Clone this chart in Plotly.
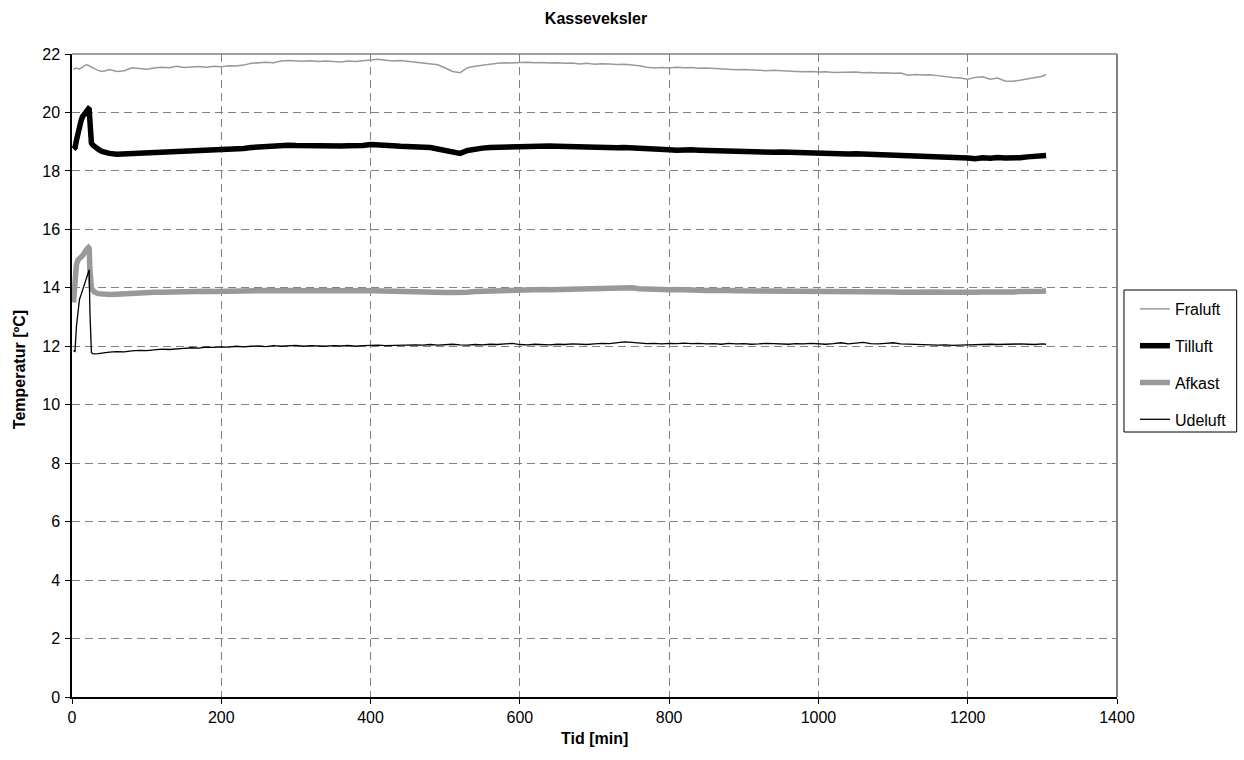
import plotly.graph_objects as go

# ---- time axis (minutes) ----
t_start = [2, 4, 6, 8, 10, 12, 14, 16, 18, 20, 22, 23, 24, 25, 26, 28, 30, 35, 40, 45]
t_main = list(range(50, 1301, 10))
t_end = [1305]
tid = t_start + t_main + t_end

# ---- Fraluft ----
fraluft_start = [21.48, 21.5, 21.52, 21.5, 21.48, 21.52, 21.56, 21.6, 21.62, 21.63,
                 21.62, 21.6, 21.58, 21.57, 21.55, 21.53, 21.5, 21.44, 21.4, 21.43]
fraluft_main = [
    21.47, 21.4, 21.43, 21.53, 21.5, 21.48, 21.52, 21.55, 21.53, 21.58,
    21.54, 21.56, 21.57, 21.55, 21.58, 21.56, 21.6, 21.59, 21.62, 21.68,
    21.7, 21.72, 21.7, 21.76, 21.78, 21.76, 21.75, 21.77, 21.74, 21.76,
    21.75, 21.73, 21.76, 21.74, 21.77, 21.8, 21.82, 21.79, 21.76, 21.78,
    21.75, 21.72, 21.7, 21.68, 21.63, 21.52, 21.4, 21.36, 21.53, 21.58,
    21.62, 21.66, 21.68, 21.7, 21.69, 21.71, 21.72, 21.7, 21.71, 21.69,
    21.7, 21.68, 21.69, 21.66, 21.68, 21.65, 21.67, 21.66, 21.64, 21.65,
    21.63, 21.6, 21.55, 21.52, 21.54, 21.52, 21.55, 21.53, 21.54, 21.51,
    21.52, 21.5, 21.49, 21.48, 21.46, 21.47, 21.45, 21.44, 21.43, 21.44,
    21.42, 21.41, 21.4, 21.39, 21.4, 21.38, 21.39, 21.37, 21.38, 21.37,
    21.38, 21.36, 21.37, 21.35, 21.36, 21.34, 21.35, 21.27, 21.3, 21.28,
    21.29, 21.26, 21.22, 21.2, 21.18, 21.14, 21.2, 21.22, 21.14, 21.18,
    21.08, 21.07, 21.1, 21.14, 21.2, 21.24]
fraluft_end = [21.3]

# ---- Tilluft ----
tilluft_start = [18.75, 18.8, 19.05, 19.35, 19.55, 19.7, 19.85, 19.94, 20.02, 20.08,
                 20.12, 20.1, 19.6, 19.0, 18.95, 18.88, 18.82, 18.74, 18.67, 18.63]
tilluft_main = [
    18.6, 18.57, 18.58, 18.6, 18.62, 18.64, 18.66, 18.65, 18.67, 18.68,
    18.7, 18.69, 18.71, 18.72, 18.73, 18.74, 18.74, 18.75, 18.77, 18.8,
    18.82, 18.83, 18.85, 18.86, 18.88, 18.87, 18.86, 18.85, 18.86, 18.87,
    18.86, 18.85, 18.86, 18.85, 18.87, 18.9, 18.9, 18.88, 18.86, 18.84,
    18.83, 18.82, 18.82, 18.8, 18.75, 18.7, 18.63, 18.6, 18.7, 18.76,
    18.78, 18.8, 18.81, 18.83, 18.84, 18.85, 18.85, 18.86, 18.84, 18.85,
    18.84, 18.83, 18.82, 18.81, 18.82, 18.8, 18.81, 18.8, 18.79, 18.8,
    18.78, 18.76, 18.74, 18.72, 18.73, 18.72, 18.71, 18.73, 18.72, 18.71,
    18.7, 18.71, 18.69, 18.68, 18.68, 18.67, 18.66, 18.67, 18.65, 18.64,
    18.65, 18.64, 18.62, 18.63, 18.61, 18.62, 18.6, 18.61, 18.6, 18.58,
    18.59, 18.58, 18.59, 18.57, 18.58, 18.56, 18.57, 18.56, 18.54, 18.53,
    18.51, 18.5, 18.48, 18.46, 18.45, 18.44, 18.42, 18.45, 18.43, 18.46,
    18.44, 18.43, 18.45, 18.48, 18.5, 18.51]
tilluft_end = [18.53]

# ---- Afkast ----
afkast_start = [13.5, 14.7, 14.8, 14.95, 15.05, 15.05, 15.1, 15.2, 15.28, 15.33,
                15.38, 15.35, 14.6, 14.1, 14.0, 13.92, 13.86, 13.8, 13.78, 13.77]
afkast_main = [
    13.77, 13.78, 13.8, 13.82, 13.83, 13.84, 13.85, 13.85, 13.86, 13.86,
    13.87, 13.86, 13.87, 13.88, 13.87, 13.88, 13.89, 13.88, 13.89, 13.9,
    13.9, 13.91, 13.9, 13.92, 13.91, 13.9, 13.91, 13.9, 13.91, 13.9,
    13.9, 13.89, 13.9, 13.9, 13.91, 13.9, 13.9, 13.89, 13.88, 13.88,
    13.87, 13.86, 13.85, 13.86, 13.85, 13.84, 13.84, 13.83, 13.85, 13.87,
    13.88, 13.9, 13.91, 13.92, 13.93, 13.94, 13.93, 13.95, 13.94, 13.93,
    13.94, 13.93, 13.95, 13.94, 13.95, 13.96, 13.97, 13.98, 13.99, 14.0,
    14.0, 13.97, 13.95, 13.93, 13.94, 13.93, 13.94, 13.92, 13.93, 13.92,
    13.91, 13.92, 13.9, 13.91, 13.9, 13.9, 13.89, 13.9, 13.89, 13.88,
    13.88, 13.89, 13.88, 13.87, 13.88, 13.87, 13.88, 13.87, 13.88, 13.87,
    13.86, 13.87, 13.86, 13.87, 13.86, 13.86, 13.85, 13.86, 13.85, 13.86,
    13.85, 13.86, 13.85, 13.84, 13.85, 13.84, 13.85, 13.86, 13.85, 13.86,
    13.85, 13.86, 13.87, 13.86, 13.87, 13.88]
afkast_end = [13.9]

# ---- Udeluft ----
udeluft_start = [11.85, 11.82, 12.7, 13.3, 13.6, 13.75, 13.9, 14.05, 14.2, 14.35,
                 14.5, 14.62, 13.2, 11.85, 11.78, 11.75, 11.74, 11.75, 11.77, 11.78]
udeluft_main = [
    11.8, 11.82, 11.81, 11.84, 11.86, 11.85, 11.88, 11.9, 11.89, 11.92,
    11.93, 11.95, 11.94, 11.97, 11.96, 11.98, 11.97, 12.0, 11.98, 12.0,
    12.01, 11.99, 12.02, 12.0, 12.01, 12.03, 12.0, 12.02, 12.01, 12.0,
    12.02, 12.01, 12.03, 12.0, 12.02, 12.03, 12.04, 12.02, 12.03, 12.04,
    12.03, 12.05, 12.04, 12.06, 12.04, 12.05, 12.07, 12.05, 12.04, 12.06,
    12.05, 12.07, 12.06, 12.08, 12.1, 12.06, 12.05, 12.07, 12.06, 12.05,
    12.07, 12.06, 12.08, 12.07, 12.06, 12.08, 12.1, 12.09, 12.12, 12.15,
    12.13, 12.1, 12.09, 12.1, 12.08, 12.1, 12.09, 12.11, 12.09, 12.1,
    12.08, 12.09, 12.07, 12.1, 12.08, 12.09, 12.07, 12.08, 12.1, 12.09,
    12.08, 12.07, 12.09, 12.08, 12.1, 12.08, 12.07, 12.09, 12.12, 12.08,
    12.1, 12.13, 12.09, 12.08, 12.1, 12.12, 12.08, 12.07, 12.08, 12.06,
    12.05, 12.04, 12.05, 12.03, 12.04, 12.05, 12.06, 12.05, 12.07, 12.06,
    12.07, 12.06, 12.08, 12.07, 12.06, 12.08]
udeluft_end = [12.07]

series = [
    ("Fraluft", fraluft_start + fraluft_main + fraluft_end, "#999999", 1.5),
    ("Tilluft", tilluft_start + tilluft_main + tilluft_end, "#000000", 5.5),
    ("Afkast", afkast_start + afkast_main + afkast_end, "#999999", 5.5),
    ("Udeluft", udeluft_start + udeluft_main + udeluft_end, "#000000", 1.3),
]

FONT = "Liberation Sans, Arial, sans-serif"
FS = 16

# plot-area geometry in pixels
L, R, T, B = 72, 1120, 54, 697
W, H = R - L, B - T


def px_x(p):
    return (p - L) / W


def px_y(p):
    return (B - p) / H


fig = go.Figure()
for name, vals, color, width in series:
    fig.add_trace(go.Scatter(
        x=tid, y=vals, mode="lines", name=name, legendgroup=name,
        line=dict(color=color, width=width),
    ))

axis_common = dict(
    showgrid=True, gridcolor="#808080", griddash="8px,5px", gridwidth=1,
    showline=True, linecolor="#000000", linewidth=1.5,
    ticks="outside", ticklen=5, tickcolor="#000000", tickwidth=1,
    tickfont=dict(family=FONT, size=FS, color="#000000"),
    zeroline=False,
)

fig.update_layout(
    width=1244, height=760,
    margin=dict(l=L, r=1244 - R, t=T, b=760 - B),
    paper_bgcolor="white", plot_bgcolor="white",
    font=dict(family=FONT, size=FS, color="#000000"),
    title=dict(text="<b>Kasseveksler</b>", x=596 / 1244, xanchor="center",
               y=1 - 18 / 760, yanchor="middle",
               font=dict(family=FONT, size=FS, color="#000000")),
    xaxis=dict(range=[0, 1400], dtick=200, tick0=0, **axis_common),
    yaxis=dict(range=[0, 22], dtick=2, tick0=0, ticklabelstandoff=2, **axis_common),
    legend=dict(x=px_x(1138), xanchor="left",
                y=px_y(292), yanchor="top",
                borderwidth=0,
                font=dict(family=FONT, size=FS, color="#000000"),
                tracegroupgap=13, itemwidth=30, bgcolor="rgba(0,0,0,0)"),
    showlegend=True,
    shapes=[
        dict(type="line", xref="paper", yref="paper", x0=0, x1=1, y0=1, y1=1,
             line=dict(color="#808080", width=1.5), layer="above"),
        dict(type="line", xref="paper", yref="paper", x0=1, x1=1, y0=0, y1=1,
             line=dict(color="#808080", width=2), layer="above"),
        dict(type="rect", xref="paper", yref="paper",
             x0=px_x(1127), x1=px_x(1240), y0=px_y(432), y1=px_y(290),
             line=dict(color="#000000", width=1), fillcolor="rgba(0,0,0,0)",
             layer="above"),
    ],
    annotations=[
        dict(text="<b>Tid [min]</b>", xref="paper", yref="paper",
             x=px_x(596), y=px_y(738), xanchor="center", yanchor="middle",
             showarrow=False, font=dict(family=FONT, size=FS, color="#000000")),
        dict(text="<b>Temperatur [ºC]</b>", xref="paper", yref="paper",
             x=px_x(19), y=px_y(370), xanchor="center", yanchor="middle",
             textangle=-90, showarrow=False,
             font=dict(family=FONT, size=FS, color="#000000")),
    ],
)

fig.write_html("out.html")
